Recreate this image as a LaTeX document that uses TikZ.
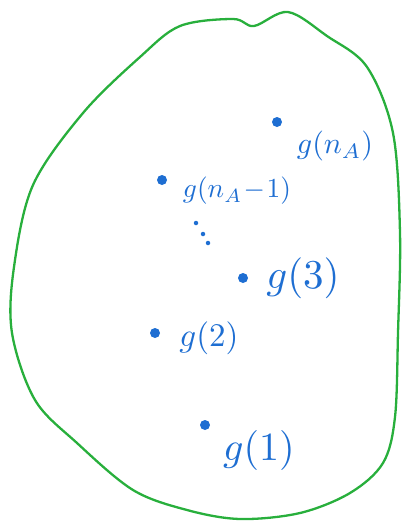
\documentclass[tikz,border=0pt]{standalone}
\usepackage{xcolor}
\definecolor{pen}{RGB}{30,110,210}
\definecolor{rim}{RGB}{40,175,60}
\begin{document}
\begin{tikzpicture}[x=1pt,y=-1pt,
  dot/.style={circle,fill=pen,inner sep=0pt,minimum size=10pt},
  tiny/.style={circle,fill=pen,inner sep=0pt,minimum size=4.5pt},
  lab/.style={text=pen,inner sep=0pt}]
\useasboundingbox (0,0) rectangle (405,523);
\draw[rim,line width=2.3pt] plot[smooth cycle,tension=0.55] coordinates {
 (180,26) (233,19) (254,26) (288,12) (327,36) (367,67) (393,133) (400,233)
 (398,333) (395,417) (383,463) (350,493) (300,513) (240,519) (187,510)
 (133,490) (77,443) (35,400) (12,333) (14,267) (33,185) (83,113) (140,57)};
\node[dot] (pA) at (277,122) {};
\node[lab,scale=3.0] (lA) at (335,146) {$g(n_A)$};
\node[dot] (pB) at (162,180) {};
\node[lab,scale=2.75] (lB) at (237,191) {$g(n_A\!-\!1)$};
\node[tiny] (e1) at (196,223) {};
\node[tiny] (e2) at (203,234) {};
\node[tiny] (e3) at (208,243) {};
\node[dot] (p3) at (243,278) {};
\node[lab,scale=4.1] (l3) at (303,278) {$g(3)$};
\node[dot] (p2) at (155,333) {};
\node[lab,scale=3.3] (l2) at (209,338) {$g(2)$};
\node[dot] (p1) at (205,425) {};
\node[lab,scale=4.0] (l1) at (259,450) {$g(1)$};
\end{tikzpicture}
\end{document}
